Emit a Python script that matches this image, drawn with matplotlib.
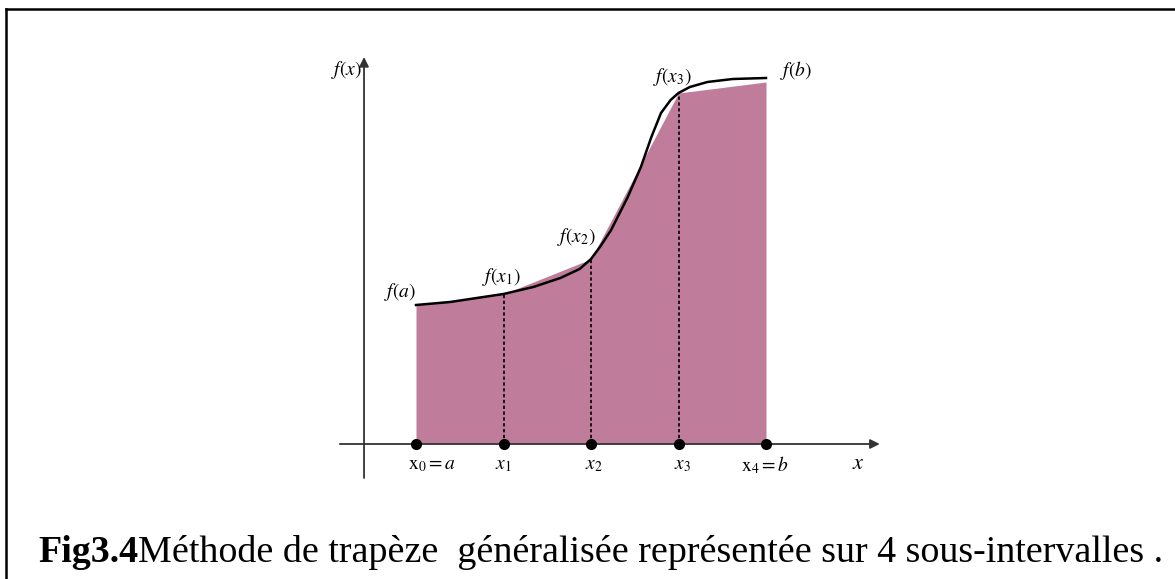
import matplotlib
matplotlib.use("Agg")
from matplotlib import pyplot as plt
from matplotlib.lines import Line2D

plt.rcParams['mathtext.fontset'] = 'stix'

# noeuds x0..x4 et valeurs f(xi)
noeuds = [0, 1, 2, 3, 4]
f_noeuds = [1.39, 1.50, 1.85, 3.51, 3.62]

# la courbe f(x)
courbe_x = [0.0, 0.39, 0.77, 1.0, 1.34, 1.65, 1.87, 2.0, 2.11, 2.23, 2.42,
            2.57, 2.69, 2.80, 2.91, 3.0, 3.13, 3.33, 3.62, 4.0]
courbe_y = [1.39, 1.42, 1.47, 1.50, 1.57, 1.66, 1.75, 1.85, 1.98, 2.14, 2.47,
            2.77, 3.07, 3.31, 3.44, 3.51, 3.57, 3.62, 3.65, 3.66]

etiquettes_f = [r'$f(a)$', r'$f(x_1)$', r'$f(x_2)$', r'$f(x_3)$', r'$f(b)$']
etiquettes_x = [r'$\mathrm{x}_0 = a$', r'$x_1$', r'$x_2$', r'$x_3$', r'$\mathrm{x}_4 = b$']

fig = plt.figure(figsize=(11.75, 5.79), dpi=100)
ax = fig.add_axes([0, 0, 1, 1])
ax.set_xlim(-416 / 87.5, (1175 - 416) / 87.5)
ax.set_ylim(-135 / 100, 444 / 100)
ax.axis('off')

# cadre (haut et gauche)
fig.add_artist(Line2D([6 / 1175, 1], [1 - 9 / 579, 1 - 9 / 579], color='black', lw=1.8))
fig.add_artist(Line2D([6 / 1175, 6 / 1175], [0, 1 - 9 / 579], color='black', lw=1.8))

# trapezes
ax.fill_between(noeuds, f_noeuds, 0, color='#c07d9b', lw=0, zorder=1)

# axes avec fleches
ax.annotate('', xy=(5.30, 0), xytext=(-0.87, 0),
            arrowprops=dict(arrowstyle='-|>', color='#333333', lw=1.3,
                            mutation_scale=14, shrinkA=0, shrinkB=0), zorder=2)
ax.annotate('', xy=(-0.594, 3.87), xytext=(-0.594, -0.34),
            arrowprops=dict(arrowstyle='-|>', color='#333333', lw=1.3,
                            mutation_scale=14, shrinkA=0, shrinkB=0), zorder=2)

# pointilles verticaux
for xi, fi in zip(noeuds[1:4], f_noeuds[1:4]):
    ax.plot([xi, xi], [0, fi], color='black', lw=1.2, ls=(0, (2, 1.5)), zorder=3)

ax.plot(courbe_x, courbe_y, color='black', lw=1.8, zorder=4,
        solid_joinstyle='round')
ax.plot(noeuds, [0] * 5, 'o', color='black', ms=7, zorder=5)

# textes
ax.text(-0.80, 3.74, r'$f(x)$', fontsize=14, ha='center', va='center')
pos_f = [(-0.18, 1.52), (0.98, 1.67), (1.83, 2.07), (2.93, 3.67), (4.34, 3.74)]
for (tx, ty), lab in zip(pos_f, etiquettes_f):
    ax.text(tx, ty, lab, fontsize=14, ha='center', va='center')
pos_x = [0.18, 1.0, 2.03, 3.05, 3.99]
for tx, lab in zip(pos_x, etiquettes_x):
    ax.text(tx, -0.21, lab, fontsize=14, ha='center', va='center')
ax.text(5.05, -0.19, r'$x$', fontsize=16, ha='center', va='center')

# legende de la figure
t1 = fig.text(38 / 1175, 1 - 562 / 579, 'Fig3.4', fontsize=27.4, fontweight='bold',
              family='Liberation Serif', va='baseline')
ax.annotate(u'Méthode de trapèze  généralisée représentée sur 4 sous-intervalles .',
            xy=(1, 0), xycoords=t1, va='bottom', fontsize=27.4,
            family='Liberation Serif')

fig.savefig('out.png', dpi=100)
